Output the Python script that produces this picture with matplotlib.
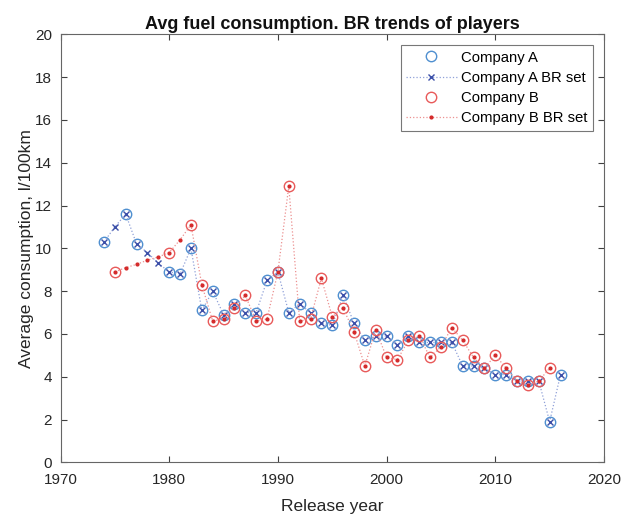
import matplotlib
matplotlib.use("Agg")
import matplotlib.pyplot as plt

plt.rcParams['font.family'] = ['Liberation Sans', 'DejaVu Sans']

# Company A (circles)
a_years = [1974, 1976, 1977, 1980, 1981, 1982, 1983, 1984, 1985, 1986, 1987, 1988,
           1989, 1990, 1991, 1992, 1993, 1994, 1995, 1996, 1997, 1998, 1999, 2000,
           2001, 2002, 2003, 2004, 2005, 2006, 2007, 2008, 2009, 2010, 2011, 2012,
           2013, 2014, 2015, 2016]
a_vals = [10.3, 11.6, 10.2, 8.9, 8.8, 10.0, 7.1, 8.0, 6.9, 7.4, 7.0, 7.0,
          8.5, 8.9, 7.0, 7.4, 7.0, 6.5, 6.4, 7.8, 6.5, 5.7, 5.9, 5.9,
          5.5, 5.9, 5.6, 5.6, 5.6, 5.6, 4.5, 4.5, 4.4, 4.1, 4.1, 3.8,
          3.8, 3.8, 1.9, 4.1]

# Company A BR set (all years)
abr_years = [1974, 1975, 1976, 1977, 1978, 1979, 1980, 1981, 1982, 1983, 1984, 1985,
             1986, 1987, 1988, 1989, 1990, 1991, 1992, 1993, 1994, 1995, 1996, 1997,
             1998, 1999, 2000, 2001, 2002, 2003, 2004, 2005, 2006, 2007, 2008, 2009,
             2010, 2011, 2012, 2013, 2014, 2015, 2016]
abr_vals = [10.3, 11.0, 11.6, 10.2, 9.8, 9.3, 8.9, 8.8, 10.0, 7.1, 8.0, 6.9,
            7.4, 7.0, 7.0, 8.5, 8.9, 7.0, 7.4, 7.0, 6.5, 6.4, 7.8, 6.5,
            5.7, 5.9, 5.9, 5.5, 5.9, 5.6, 5.6, 5.6, 5.6, 4.5, 4.5, 4.4,
            4.1, 4.1, 3.8, 3.8, 3.8, 1.9, 4.1]

# Company B (circles)
b_years = [1975, 1980, 1982, 1983, 1984, 1985, 1986, 1987, 1988, 1989, 1990, 1991,
           1992, 1993, 1994, 1995, 1996, 1997, 1998, 1999, 2000, 2001, 2002, 2003,
           2004, 2005, 2006, 2007, 2008, 2009, 2010, 2011, 2012, 2013, 2014, 2015]
b_vals = [8.9, 9.8, 11.1, 8.3, 6.6, 6.7, 7.2, 7.8, 6.6, 6.7, 8.9, 12.9,
          6.6, 6.7, 8.6, 6.8, 7.2, 6.1, 4.5, 6.2, 4.9, 4.8, 5.7, 5.9,
          4.9, 5.4, 6.3, 5.7, 4.9, 4.4, 5.0, 4.4, 3.8, 3.6, 3.8, 4.4]

# Company B BR set (all years)
bbr_years = [1975, 1976, 1977, 1978, 1979, 1980, 1981, 1982, 1983, 1984, 1985, 1986,
             1987, 1988, 1989, 1990, 1991, 1992, 1993, 1994, 1995, 1996, 1997, 1998,
             1999, 2000, 2001, 2002, 2003, 2004, 2005, 2006, 2007, 2008, 2009, 2010,
             2011, 2012, 2013, 2014, 2015]
bbr_vals = [8.9, 9.1, 9.25, 9.45, 9.6, 9.8, 10.4, 11.1, 8.3, 6.6, 6.7, 7.2,
            7.8, 6.6, 6.7, 8.9, 12.9, 6.6, 6.7, 8.6, 6.8, 7.2, 6.1, 4.5,
            6.2, 4.9, 4.8, 5.7, 5.9, 4.9, 5.4, 6.3, 5.7, 4.9, 4.4, 5.0,
            4.4, 3.8, 3.6, 3.8, 4.4]

xticks = [1970, 1980, 1990, 2000, 2010, 2020]
yticks = [0, 2, 4, 6, 8, 10, 12, 14, 16, 18, 20]

fig = plt.figure(figsize=(6.25, 5.15), dpi=100)
ax = fig.add_axes([0.0968, 0.1023, 0.8696, 0.831])

blue_c = '#4f8fd0'
blue_x = '#3b4fa8'
red_c = '#e85a5a'
red_d = '#d42a2a'

ax.plot(a_years, a_vals, linestyle='none', marker='o', markersize=7.5,
        markerfacecolor='none', markeredgecolor=blue_c, markeredgewidth=1.0,
        label='Company A')
ax.plot(abr_years, abr_vals, linestyle=':', color='#8fa0d8', linewidth=0.9,
        marker='x', markersize=5, markeredgecolor=blue_x, markeredgewidth=1.0,
        label='Company A BR set')
ax.plot(b_years, b_vals, linestyle='none', marker='o', markersize=7.5,
        markerfacecolor='none', markeredgecolor=red_c, markeredgewidth=1.0,
        label='Company B')
ax.plot(bbr_years, bbr_vals, linestyle=':', color='#ec9090', linewidth=0.9,
        marker='.', markersize=4, markeredgecolor=red_d, markerfacecolor=red_d,
        label='Company B BR set')

ax.set_xlim(1970, 2020)
ax.set_ylim(0, 20)
ax.set_xticks(xticks)
ax.set_yticks(yticks)
ax.tick_params(direction='in', length=4, top=True, right=True,
               labelsize=11, colors='#404040', labelcolor='#262626')
ax.tick_params(axis='x', pad=8)
ax.tick_params(axis='y', pad=6)
for s in ax.spines.values():
    s.set_color('#666666')
    s.set_linewidth(0.8)

ax.set_xlabel('Release year', fontsize=12.5, color='#262626', labelpad=8)
ax.set_ylabel('Average consumption, l/100km', fontsize=12.5, color='#262626', labelpad=0.5)
ax.set_title('Avg fuel consumption. BR trends of players', fontsize=13,
             fontweight='bold', color='#111111', pad=4)

leg = ax.legend(loc='upper right', fontsize=10.7, frameon=True, fancybox=False,
                edgecolor='#555555', borderpad=0.35, labelspacing=0.42,
                handlelength=3.4, handletextpad=0.3, borderaxespad=0.75)
leg.get_frame().set_linewidth(0.8)

fig.savefig('out.png', dpi=100, facecolor='white')
